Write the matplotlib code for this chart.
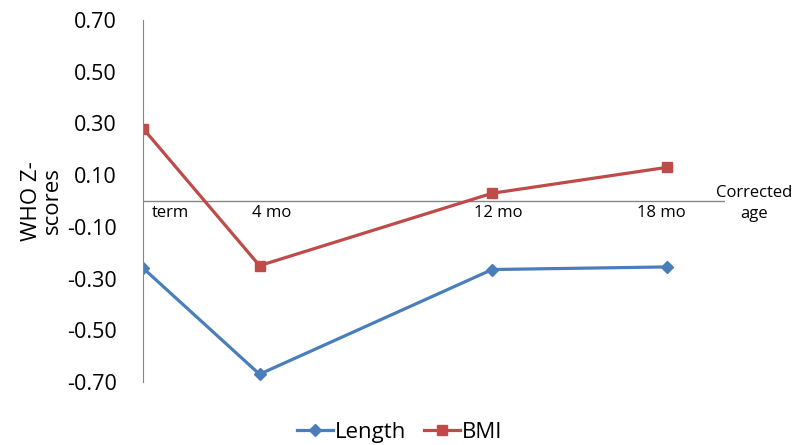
import matplotlib
matplotlib.use("Agg")
import matplotlib.pyplot as plt

months = [0, 4, 12, 18]
age_labels = ["term", "4 mo", "12 mo", "18 mo"]
length_z = [-0.26, -0.67, -0.265, -0.255]
bmi_z = [0.28, -0.25, 0.03, 0.13]
yticks = [-0.70, -0.50, -0.30, -0.10, 0.10, 0.30, 0.50, 0.70]

plt.rcParams['font.family'] = ['Open Sans', 'DejaVu Sans']

fig = plt.figure(figsize=(8, 4.45), dpi=100)
ax = fig.add_axes([0.179, 0.1416, 0.727, 0.8134])

blue = "#4a7ebb"
red = "#be4b48"
ax.plot(months, length_z, color=blue, lw=2.3, marker="D", ms=6, label="Length")
ax.plot(months, bmi_z, color=red, lw=2.3, marker="s", ms=7, label="BMI")

ax.set_xlim(0, 20)
ax.set_ylim(-0.70, 0.70)
ax.set_yticks(yticks)
ax.set_yticklabels([f"{v:.2f}" for v in yticks], fontsize=15.5)
ax.tick_params(axis="y", length=0, pad=19)
ax.set_xticks([])
for s in ["top", "right", "bottom"]:
    ax.spines[s].set_visible(False)
ax.spines["left"].set_color("#868686")
ax.axhline(0, color="#868686", lw=1, zorder=0)

offsets = [(0.3, "left"), (0.4, "center"), (0.2, "center"), (-0.2, "center")]
for x, lab, (dx, ha) in zip(months, age_labels, offsets):
    ax.text(x + dx, -0.048, lab, fontsize=12, ha=ha, va="center")
ax.text(21.0, -0.01, "Corrected\nage", fontsize=12, ha="center", va="center",
        linespacing=1.4, clip_on=False)

ax.set_ylabel("WHO Z-\nscores", fontsize=16, labelpad=3, linespacing=1.0)

ax.legend(loc="upper center", bbox_to_anchor=(0.4415, -0.055), ncol=2, frameon=False,
          fontsize=16, handlelength=1.6, columnspacing=0.8, handletextpad=0.1)

fig.savefig("out.png", dpi=100)
